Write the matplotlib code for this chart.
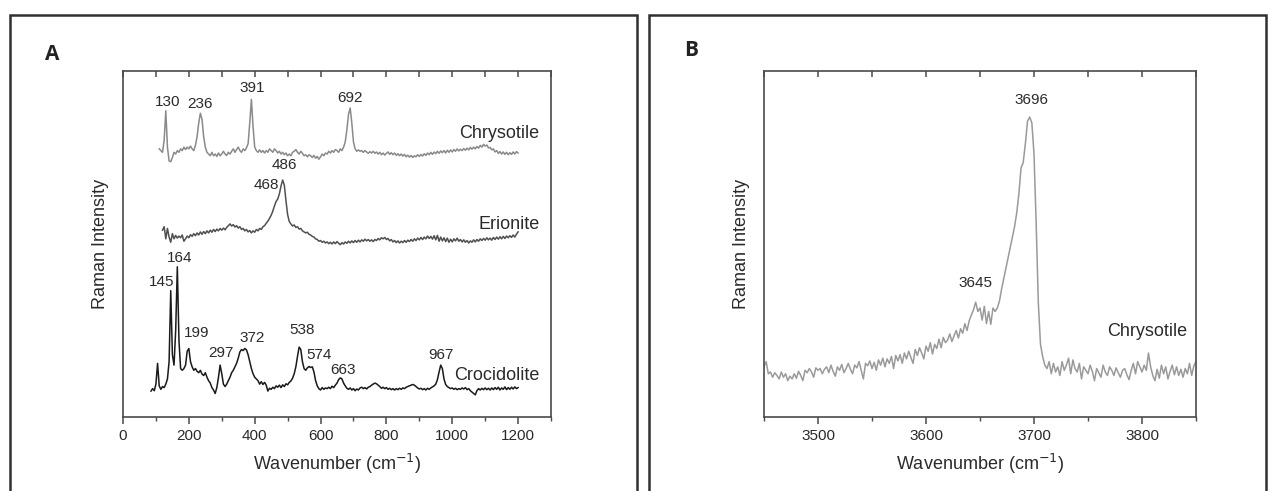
import numpy as np
import matplotlib
matplotlib.use("Agg")
import matplotlib.pyplot as plt
from matplotlib.patches import Rectangle
from matplotlib.ticker import MultipleLocator, NullFormatter

plt.rcParams['font.family'] = ['Liberation Sans', 'DejaVu Sans']

# ---------------- Panel A data (intensity in arbitrary offset units) ----------------
chry_start, a_step = 110, 5
chrysotile_A = [
    77.5, 77.0, 76.5, 80.0, 88.5, 78.0, 74.0, 73.8, 75.0, 76.5, 76.0, 77.0, 76.5, 77.5, 77.0, 78.0, 77.3, 78.0, 77.5, 78.3,
    77.5, 77.0, 78.5, 81.0, 85.0, 87.8, 86.0, 81.0, 78.0, 76.5, 76.0, 75.5, 76.5, 75.5, 76.0, 75.3, 76.3, 75.5, 76.0, 76.8,
    76.0, 75.6, 76.5, 76.0, 76.8, 77.5, 76.5, 77.3, 78.0, 77.0, 76.5, 77.5, 77.0, 77.8, 79.0, 85.0, 91.8, 84.0, 78.0, 77.0,
    76.5, 77.2, 76.5, 77.0, 76.3, 77.0, 76.5, 77.5, 77.0, 76.5, 77.5, 77.0, 76.3, 76.8, 76.0, 76.5, 75.8, 76.3, 75.5, 76.0,
    75.5, 76.5, 76.8, 77.3, 76.5, 76.0, 76.8, 76.2, 75.5, 75.8, 75.2, 75.8, 75.5, 75.0, 75.6, 74.8, 75.3, 74.5, 75.2, 76.0,
    75.5, 76.3, 76.0, 76.8, 76.3, 77.0, 76.5, 77.3, 77.0, 76.5, 77.5, 77.0, 78.0, 79.5, 83.0, 87.5, 89.3, 85.0, 79.5, 77.5,
    76.8, 77.2, 76.8, 77.0, 76.5, 77.0, 76.6, 76.2, 76.7, 76.3, 76.8, 76.2, 76.6, 76.0, 76.5, 75.8, 76.3, 75.7, 76.2, 76.6,
    75.9, 76.4, 75.8, 76.3, 75.6, 76.1, 75.5, 76.0, 75.4, 75.9, 75.2, 75.7, 75.1, 75.6, 75.0, 75.5, 75.2, 75.8, 75.3, 75.9,
    75.4, 76.1, 75.6, 76.3, 75.8, 76.5, 75.9, 76.6, 76.1, 76.8, 76.2, 76.9, 76.4, 77.0, 76.3, 77.1, 76.5, 77.2, 76.6, 77.3,
    76.8, 77.5, 76.9, 77.4, 77.0, 77.6, 77.1, 77.7, 77.2, 77.9, 77.4, 78.0, 77.5, 78.2, 77.7, 78.5, 78.0, 78.8, 78.3, 78.6,
    77.8, 77.9, 77.2, 77.5, 76.6, 77.0, 76.2, 76.7, 76.0, 76.6, 75.9, 76.5, 75.8, 76.4, 75.9, 76.6, 76.0, 76.7, 76.3,
]

erio_start = 120
erionite_A = [
    54.0, 55.0, 51.5, 54.5, 52.0, 50.5, 53.0, 51.5, 52.5, 51.7, 52.3, 51.8, 52.6, 50.8, 51.5, 52.3, 51.8, 52.7, 52.2, 53.0,
    52.4, 53.2, 52.6, 53.5, 52.8, 53.6, 53.0, 53.8, 53.2, 54.0, 53.4, 54.2, 53.6, 54.3, 53.8, 54.5, 54.0, 54.6, 54.1, 54.8,
    55.3, 55.8, 55.2, 55.6, 54.9, 55.3, 54.6, 55.0, 54.2, 54.5, 53.8, 54.2, 53.5, 53.9, 53.2, 53.8, 53.4, 54.2, 53.8, 54.5,
    54.2, 55.0, 55.3, 56.0, 56.6, 57.4, 58.3, 59.5, 61.0, 62.3, 63.0, 64.5, 66.8, 68.5, 67.0, 62.5, 58.5, 56.5, 55.8, 55.2,
    55.5, 54.8, 55.0, 54.3, 54.5, 53.8, 53.5, 53.2, 53.4, 52.8, 52.6, 52.2, 52.0, 51.5, 51.3, 50.8, 51.0, 50.5, 50.8, 50.3,
    50.6, 50.1, 50.5, 50.0, 50.6, 50.1, 50.7, 50.2, 49.8, 50.4, 50.0, 50.6, 50.2, 50.8, 50.3, 50.9, 50.4, 51.0, 50.5, 51.1,
    50.6, 51.2, 50.8, 51.4, 50.9, 51.3, 50.8, 51.2, 50.7, 51.3, 51.0, 51.6, 51.2, 51.8, 51.5, 51.9, 51.3, 51.6, 50.9, 51.3,
    50.6, 51.0, 50.4, 50.9, 50.3, 50.8, 50.4, 51.0, 50.5, 51.1, 50.7, 51.3, 50.8, 51.5, 51.0, 51.7, 51.2, 51.9, 51.3, 52.0,
    51.5, 52.3, 51.6, 52.2, 51.4, 52.4, 51.2, 52.5, 50.8, 52.0, 50.9, 51.8, 50.7, 51.7, 50.5, 51.4, 50.6, 51.5, 50.9, 51.7,
    50.8, 51.3, 50.6, 51.2, 50.5, 51.0, 50.3, 50.9, 50.5, 51.2, 50.6, 51.3, 50.8, 51.5, 51.0, 51.6, 51.1, 51.8, 51.2, 51.7,
    51.1, 51.9, 51.3, 52.0, 51.4, 52.1, 51.5, 52.2, 51.6, 52.3, 51.8, 52.4, 51.9, 52.6, 52.0, 52.8, 53.5,
]

croc_start = 85
crocidolite_A = [
    7.5, 8.2, 7.6, 9.5, 15.5, 9.0, 8.0, 8.8, 8.5, 9.5, 11.0, 16.0, 36.5, 18.0, 15.0, 25.0, 43.4, 22.0, 14.0, 13.5,
    14.0, 15.0, 19.0, 19.8, 16.0, 14.5, 13.5, 14.0, 13.2, 12.8, 13.5, 12.4, 12.0, 12.8, 11.5, 10.5, 9.8, 8.5, 7.8, 6.8,
    8.5, 11.5, 15.0, 12.5, 9.5, 8.8, 9.5, 10.5, 11.5, 12.8, 13.5, 14.5, 15.5, 17.0, 18.8, 19.5, 19.2, 19.8, 19.4, 18.0,
    16.0, 14.0, 12.5, 11.5, 11.0, 10.5, 9.5, 10.2, 9.4, 10.0, 9.2, 7.5, 8.3, 8.0, 8.6, 8.2, 9.0, 8.6, 9.2, 8.5,
    9.3, 8.8, 9.6, 9.3, 10.0, 10.4, 11.2, 12.5, 14.5, 17.5, 20.2, 19.5, 16.0, 14.0, 13.5, 14.2, 14.6, 14.3, 14.5, 13.0,
    10.5, 9.0, 8.2, 7.8, 8.5, 8.0, 8.4, 8.2, 8.6, 8.2, 8.9, 8.5, 9.2, 9.8, 10.8, 11.3, 11.0, 9.8, 9.0, 8.3,
    8.0, 8.4, 7.8, 8.2, 7.6, 8.1, 7.8, 8.4, 8.6, 8.2, 8.5, 8.1, 8.6, 8.8, 9.2, 9.5, 9.8, 9.6, 9.2, 8.8,
    8.3, 8.6, 8.2, 8.5, 8.0, 8.3, 7.9, 8.2, 7.8, 8.2, 7.9, 8.3, 8.0, 8.4, 8.2, 8.6, 8.8, 9.0, 9.2, 9.4,
    9.2, 8.8, 8.4, 8.1, 8.3, 7.9, 8.2, 7.8, 8.3, 8.0, 8.4, 8.7, 9.0, 9.5, 10.8, 13.0, 15.0, 14.0, 11.0, 9.4,
    8.8, 8.5, 8.2, 8.4, 8.0, 8.3, 7.9, 8.2, 8.0, 8.4, 8.1, 8.5, 7.9, 8.2, 7.6, 7.2, 6.8, 6.4, 7.6, 8.2,
    7.8, 8.3, 7.9, 8.4, 7.9, 8.3, 7.8, 8.4, 7.9, 8.5, 8.0, 8.6, 7.8, 8.4, 8.0, 8.7, 7.9, 8.5, 8.0, 8.6,
    8.1, 8.7, 8.2, 8.5,
]

# peak labels: (text, x, y) for panel A (y = label centre)
labels_A_text = ["130", "236", "391", "692", "486", "468",
                 "164", "145", "199", "297", "372", "538", "574", "663", "967"]
labels_A_x = [137, 234, 392, 690, 491, 435, 172, 116, 224, 296, 392, 544, 596, 668, 966]
labels_A_y = [91.0, 90.5, 95.0, 92.2, 72.8, 67.0, 45.9, 39.0, 24.2, 18.5, 22.8, 25.0, 17.9, 13.6, 17.9]
names_A = ["Chrysotile", "Erionite", "Crocidolite"]
names_A_y = [82.0, 55.5, 12.1]

# ---------------- Panel B data ----------------
b_start, b_step = 3450, 2
chrysotile_B = [
    14.5, 16.0, 12.5, 13.0, 11.5, 12.8, 12.0, 11.0, 13.0, 11.5, 12.5,
    10.5, 11.8, 11.0, 12.5, 11.2, 13.2, 12.0, 10.5, 13.5, 12.8, 14.0, 13.0, 11.5, 14.2, 13.5,
    14.0, 12.5, 13.8, 14.5, 12.8, 15.0, 13.2, 11.8, 14.5, 13.5, 15.2, 12.8, 14.0, 15.5, 13.8,
    12.5, 15.0, 14.2, 16.0, 13.5, 11.0, 15.5, 14.8, 16.2, 14.0, 15.8, 13.5, 16.5, 15.0, 17.0,
    14.5, 16.8, 15.5, 17.5, 14.0, 17.8, 16.2, 18.0, 15.5, 18.5, 16.8, 19.0, 17.2, 15.5, 19.5,
    17.8, 20.0, 18.5, 16.8, 20.5, 19.0, 21.5, 18.2, 21.0, 19.8, 22.5, 20.0, 23.0, 21.5, 22.2,
    24.0, 21.8, 23.5, 25.0, 22.8, 25.5, 24.2, 27.0, 25.0, 27.8, 29.5, 31.0, 33.2, 30.5, 31.5,
    28.0, 32.0, 27.0, 30.5, 26.8, 31.5, 30.5, 31.5, 33.5, 37.0, 40.0, 43.0, 46.0, 49.0, 52.0,
    55.0, 59.0, 64.5, 72.0, 73.5, 79.0, 85.5, 86.7, 85.0, 76.0, 56.0, 33.0, 21.0, 17.5, 15.0,
    14.0, 16.0, 12.5, 15.5, 13.0, 14.5, 12.0, 16.0, 13.5, 15.0, 17.0, 12.5, 16.5, 14.0, 13.0,
    15.5, 11.0, 14.5, 13.5, 12.5, 15.0, 13.2, 10.5, 14.0, 12.8, 11.5, 15.0, 13.0, 12.0, 14.5,
    13.5, 12.0, 14.2, 12.8, 11.5, 13.5, 14.0, 12.2, 10.8, 13.5, 15.5, 12.5, 16.0, 14.5, 13.0,
    15.0, 13.5, 18.5, 14.5, 12.0, 10.5, 13.8, 11.2, 15.0, 12.5, 14.5, 11.0, 13.2, 15.0, 12.2,
    14.5, 12.0, 13.8, 11.5, 14.0, 12.5, 15.5, 12.0, 14.8, 16.0,
]
labels_B_text = ["3696", "3645"]
labels_B_x = [3698, 3646]
labels_B_y = [91.6, 38.7]

# ---------------- figure ----------------
W, H = 1271, 491
fig = plt.figure(figsize=(W / 100, H / 100), dpi=100)

def fx(px):
    return px / W

def fy(py):
    return 1 - py / H

# panel frames
for x0, x1 in [(10, 637), (649, 1266)]:
    fig.patches.append(Rectangle((fx(x0), fy(H + 20)), fx(x1 - x0), fy(15) - fy(H + 20),
                                 transform=fig.transFigure, fill=False,
                                 edgecolor='#303030', linewidth=1.8))

fig.text(fx(52), fy(54), "A", fontsize=15, fontweight='bold', color='#222222',
         ha='center', va='center', family=['Open Sans', 'DejaVu Sans'])
fig.text(fx(691), fy(51), "B", fontsize=15, fontweight='bold', color='#222222',
         ha='center', va='center', family=['Open Sans', 'DejaVu Sans'])

spine_col = '#4a4a4a'
txt_col = '#2a2a2a'

def style_axes(ax, major, minor, xlim):
    ax.set_xlim(*xlim)
    ax.set_ylim(0, 100)
    ax.set_yticks([])
    for s in ax.spines.values():
        s.set_color(spine_col)
        s.set_linewidth(1.2)
    ax.xaxis.set_major_locator(MultipleLocator(major))
    ax.xaxis.set_minor_locator(MultipleLocator(minor))
    ax.tick_params(axis='x', which='major', direction='out', length=5, width=1.1,
                   color=spine_col, labelsize=11, labelcolor=txt_col, pad=4,
                   top=False)
    ax.tick_params(axis='x', which='minor', direction='out', length=3, width=1.0,
                   color=spine_col, top=False)
    # mirrored top axis with inward ticks
    sec = ax.secondary_xaxis('top')
    sec.xaxis.set_major_locator(MultipleLocator(major))
    sec.xaxis.set_minor_locator(MultipleLocator(minor))
    sec.xaxis.set_major_formatter(NullFormatter())
    sec.tick_params(axis='x', which='both', direction='in', length=4, width=1.1,
                    color=spine_col)
    sec.spines['top'].set_visible(False)
    ax.set_xlabel("Wavenumber (cm$^{-1}$)", fontsize=13, color=txt_col, labelpad=6)
    ax.set_ylabel("Raman Intensity", fontsize=13, color=txt_col, labelpad=10)

# ---- Panel A
axA = fig.add_axes([fx(123), fy(417), fx(551 - 123), fy(71) - fy(417)])
xc = chry_start + a_step * np.arange(len(chrysotile_A))
xe = erio_start + a_step * np.arange(len(erionite_A))
xk = croc_start + a_step * np.arange(len(crocidolite_A))
axA.plot(xc, chrysotile_A, color='#8a8a8a', lw=1.1)
axA.plot(xe, erionite_A, color='#505050', lw=1.1)
axA.plot(xk, crocidolite_A, color='#1a1a1a', lw=1.1)
style_axes(axA, 200, 100, (0, 1300))
for s, x, y in zip(labels_A_text, labels_A_x, labels_A_y):
    axA.text(x, y, s, fontsize=11, color=txt_col, ha='center', va='center')
for s, y in zip(names_A, names_A_y):
    axA.text(1265, y, s, fontsize=13, color=txt_col, ha='right', va='center')

# ---- Panel B
axB = fig.add_axes([fx(764), fy(417), fx(1196 - 764), fy(71) - fy(417)])
xb = b_start + b_step * np.arange(len(chrysotile_B))
axB.plot(xb, chrysotile_B, color='#9a9a9a', lw=1.1)
style_axes(axB, 100, 50, (3450, 3850))
for s, x, y in zip(labels_B_text, labels_B_x, labels_B_y):
    axB.text(x, y, s, fontsize=11, color=txt_col, ha='center', va='center')
axB.text(3842, 24.6, "Chrysotile", fontsize=13, color=txt_col, ha='right', va='center')

fig.savefig("out.png", dpi=100)
